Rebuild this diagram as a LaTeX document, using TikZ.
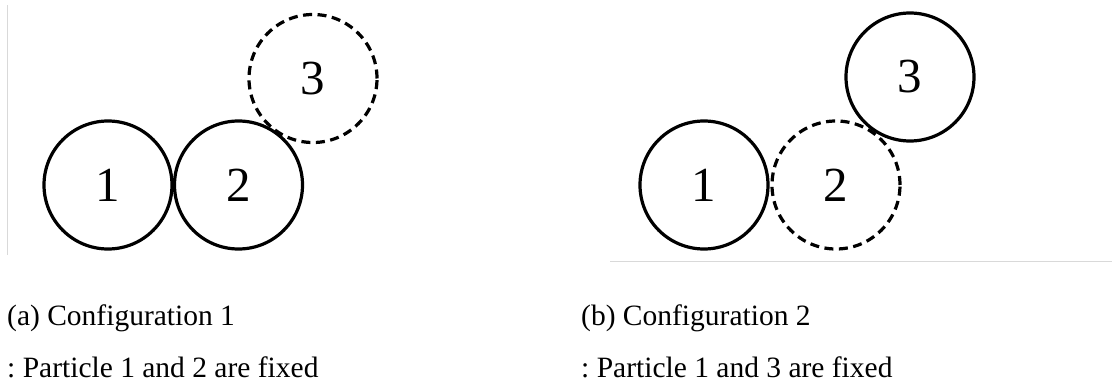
\documentclass[tikz,border=0pt]{standalone}
\usepackage{fontspec}
\setmainfont{Liberation Serif}
\frenchspacing
\begin{document}
\begin{tikzpicture}[x=1pt,y=-1pt,
  ball/.style={circle,draw=black,line width=3.2pt,minimum size=128pt,inner sep=0pt,
    font=\fontsize{49}{50}\selectfont},
  loose/.style={ball,dash pattern=on 9pt off 5.5pt},
  captext/.style={anchor=base west,inner sep=0pt,font=\fontsize{29.5}{34}\selectfont},
  framerule/.style={draw=black!15,line width=1pt}]
\useasboundingbox (0,0) rectangle (1112,388);
% left panel
\draw[framerule] (7.5,5) -- (7.5,255);
\node[ball] (a1) at (108,185) {1};
\node[ball] (a2) at (238.5,185) {2};
\node[loose] (a3) at (313,78.5) {3};
% right panel
\draw[framerule] (610,261) -- (1112,261);
\node[ball] (b1) at (704,185) {1};
\node[loose] (b2) at (836,185) {2};
\node[ball] (b3) at (910,77) {3};
% captions
\node[captext] (ca1) at (7,325) {(a) Configuration 1};
\node[captext] (ca2) at (7,377) {: Particle 1 and 2 are fixed};
\node[captext] (cb1) at (581,325) {(b) Configuration 2};
\node[captext] (cb2) at (581,377) {: Particle 1 and 3 are fixed};
\end{tikzpicture}
\end{document}
